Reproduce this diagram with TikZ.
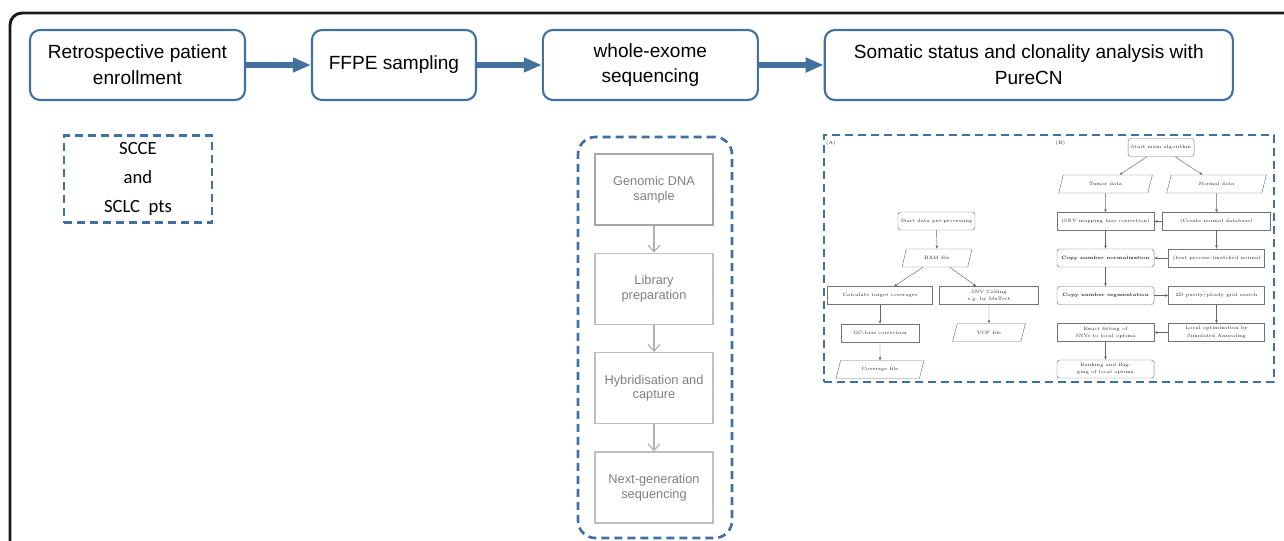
\documentclass[tikz,border=0pt]{standalone}
\usepackage{fontspec}
\usepackage{xcolor}
\usetikzlibrary{shapes.geometric, arrows.meta, positioning, calc}
\newfontfamily\arialfont{Liberation Sans}
\newfontfamily\calibrifont{Carlito}
\definecolor{stepblue}{RGB}{65,113,156}
\definecolor{dashblue}{RGB}{62,112,163}
\tikzset{
	block/.style={rectangle, draw=stepblue, line width=1.6pt, rounded corners=7.5pt, minimum height=52.5pt, align=center, font=\arialfont\fontsize{14.3}{19.3}\selectfont},
	line/.style={draw=stepblue, line width=5pt, -{Triangle[length=13.5pt, width=10.5pt]}},
	group/.style={draw=dashblue, line width=2pt, dash pattern=on 6pt off 3.75pt}
}

\begin{document}
\begin{tikzpicture}[
	x=0.75pt, y=-0.75pt,
	node distance=20.25pt and 48.6pt,
	% --- whole-exome steps ---
	wes/.style={draw=black!25, line width=1pt, minimum width=88.5pt, minimum height=53.25pt, align=center, text=black!50, font=\arialfont\fontsize{9.6}{11.2}\selectfont},
	wesline/.style={draw=black!30, line width=0.9pt, -{Straight Barb[length=5pt, width=9pt]}},
	% --- PureCN flowchart ---
	pbox/.style={draw=black!55, line width=0.35pt, minimum height=13.5pt, inner sep=1pt, align=center, text=black!85, font=\fontsize{3.55}{5.5}\selectfont},
	prnd/.style={pbox, rounded corners=2pt},
	pio/.style={pbox, trapezium, trapezium left angle=72, trapezium right angle=108, trapezium stretches=true},
	pline/.style={draw=black!60, line width=0.35pt, -{Stealth[length=2.6pt, width=2pt]}}
	]
	\useasboundingbox (0,0) rectangle (1284,540);
	
	% --- Frame ---
	\draw[black!90, line width=2.2pt, rounded corners=9pt] (10,545) -- (10,13) -- (1290,13);
	
	% --- Main steps ---
	\node[block, minimum width=161.25pt] (enrol) at (137.5,65) {Retrospective patient\\enrollment};
	\node[block, minimum width=123pt, right=of enrol] (ffpe) {FFPE sampling};
	\node[block, minimum width=161.25pt, right=of ffpe] (wes) {whole-exome\\sequencing};
	\node[block, minimum width=306pt, right=of wes] (purecn) {Somatic status and clonality analysis with\\PureCN};
	
	\draw[line] (enrol) -- (ffpe);
	\draw[line] (ffpe) -- (wes);
	\draw[line] (wes) -- (purecn);
	
	% --- Patients ---
	\node[group, minimum width=111pt, minimum height=65.25pt, align=center, font=\calibrifont\fontsize{14}{21.75}\selectfont] (pts) at (138,179) {SCCE\\and\\SCLC~ pts};
	
	% --- Whole-exome sequencing ---
	\node[group, rounded corners=13pt, minimum width=115.5pt, minimum height=300.75pt] (wesgroup) at (655,337.5) {};
	\node[wes, draw=black!35] (dna) at (654,189.5) {Genomic DNA\\sample};
	\node[wes, below=of dna] (lib) {Library\\preparation};
	\node[wes, below=of lib] (hyb) {Hybridisation and\\capture};
	\node[wes, below=of hyb] (ngs) {Next-generation\\sequencing};
	
	\draw[wesline] (dna) -- (lib);
	\draw[wesline] (lib) -- (hyb);
	\draw[wesline] (hyb) -- (ngs);
	
	% --- PureCN ---
	\node[group, minimum width=337.5pt, minimum height=185.25pt] (pcgroup) at (1049,258.5) {};
	\node[text=black!85, font=\fontsize{3.55}{5.5}\selectfont] (labA) at (831,143) {(A)};
	\node[text=black!85, font=\fontsize{3.55}{5.5}\selectfont] (labB) at (1060.5,143) {(B)};
	
	% (A) pre-processing
	\node[prnd, minimum width=57.75pt] (prep) at (936.5,221) {Start data pre-processing};
	\node[pio, minimum width=52.5pt] (bam) at (937,258) {BAM file};
	\node[pbox, minimum width=78.75pt] (cov) at (880,295.5) {Calculate target coverages};
	\node[pbox, minimum width=74.25pt] (snv) at (989,295.5) {SNV Calling\\e.g.\ by MuTect};
	\node[pbox, minimum width=58.5pt] (gc) at (880,333) {GC-bias correction};
	\node[pio, minimum width=54.75pt] (vcf) at (989,332.5) {VCF file};
	\node[pio, minimum width=66pt] (covfile) at (880,369.5) {Coverage file};
	
	\draw[pline] (prep) -- (bam);
	\draw[pline] (bam) -- (cov);
	\draw[pline] (bam) -- (snv);
	\draw[pline] (cov) -- (gc);
	\draw[pline] (gc) -- (covfile);
	\draw[pline] (snv) -- (vcf);
	
	% (B) main algorithm
	\node[prnd, minimum width=49.5pt] (start) at (1161,147.5) {Start main algorithm};
	\node[pio, minimum width=70.5pt] (tumor) at (1105.5,184) {Tumor data};
	\node[pio, minimum width=75pt] (normal) at (1216.5,184) {Normal data};
	\node[pbox, minimum width=72.75pt] (mapbias) at (1105.5,221.5) {(SNV mapping bias correction)};
	\node[pbox, minimum width=81pt] (normdb) at (1216.5,221.5) {(Create normal database)};
	\node[prnd, minimum width=72.75pt] (cnnorm) at (1105.5,258) {\bfseries Copy number normalization};
	\node[pbox, minimum width=72pt] (matched) at (1216.5,258) {(best process-)matched normal};
	\node[prnd, minimum width=72.75pt] (cnseg) at (1105.5,295.5) {\bfseries Copy number segmentation};
	\node[pbox, minimum width=72pt] (grid) at (1216.5,295.5) {2D purity/ploidy grid search};
	\node[pbox, minimum width=72.75pt] (fit) at (1105.5,332.5) {Exact fitting of\\SNVs to local optima};
	\node[pbox, minimum width=72pt] (anneal) at (1216.5,332.5) {Local optimization by\\Simulated Annealing};
	\node[prnd, minimum width=72.75pt] (rank) at (1105.5,369) {Ranking and flag-\\ging of local optima};
	
	\draw[pline] (start) -- (tumor);
	\draw[pline] (start) -- (normal);
	\draw[pline] (tumor) -- (mapbias);
	\draw[pline] (normal) -- (normdb);
	\draw[pline] (normdb) -- (mapbias);
	\draw[pline] (mapbias) -- (cnnorm);
	\draw[pline] (normdb) -- (matched);
	\draw[pline] (matched) -- (cnnorm);
	\draw[pline] (cnnorm) -- (cnseg);
	\draw[pline] (cnseg) -- (grid);
	\draw[pline] (grid) -- (anneal);
	\draw[pline] (anneal) -- (fit);
	\draw[pline] (fit) -- (rank);
	
\end{tikzpicture}
\end{document}
